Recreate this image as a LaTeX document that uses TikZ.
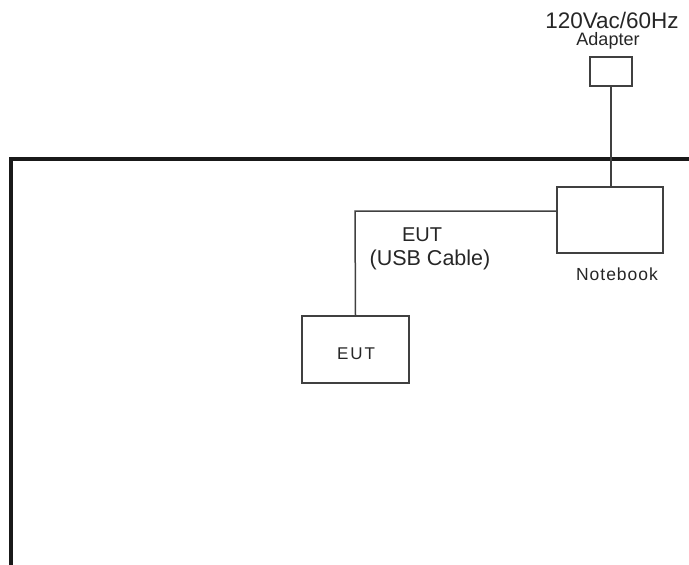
\documentclass[tikz,border=0pt]{standalone}
\usepackage{fontspec}
\setmainfont{Liberation Sans}
\begin{document}
\begin{tikzpicture}[x=1pt,y=-1pt,
  box/.style={draw=black!75,line width=1.5pt,minimum width=0pt},
  wire/.style={draw=black!75,line width=1.5pt},
  lbl/.style={inner sep=0pt,text=black!85}]
\useasboundingbox (0,0) rectangle (689,565);
% frame
\draw[line width=3.5pt,black!90] (11,567) -- (11,159) -- (691,159);
% boxes
\path[box] (590,57) rectangle (632,86);
\coordinate (adB) at (611,86);
\node[box,inner sep=0pt,minimum width=106pt,minimum height=66pt] (nb) at (610,220) {};
\node[box,inner sep=0pt,minimum width=107pt,minimum height=67pt] (eut) at (355.5,349.5) {};
\node[lbl,font=\fontsize{17}{19}\selectfont] at (356,354) {E\kern2pt U\kern2pt T};
% wires
\draw[wire] (adB) -- (adB |- nb.north);
\draw[wire] (nb.west |- 0,211) -- (355,211) -- (eut.north);
% labels
\node[lbl,font=\fontsize{22.5}{24}\selectfont] at (612,20) {120Vac/60Hz};
\node[lbl,font=\fontsize{18}{19}\selectfont] at (608,41) {Adapter};
\node[lbl,font=\fontsize{17.5}{18}\selectfont] at (617,274) {N\kern1pt o\kern1pt t\kern1pt e\kern1pt b\kern1pt o\kern1pt o\kern1pt k};
\node[lbl,font=\fontsize{20}{22}\selectfont] at (422,235) {EUT};
\node[lbl,font=\fontsize{21.5}{22}\selectfont] at (430,260) {(USB Cable)};
\end{tikzpicture}
\end{document}
